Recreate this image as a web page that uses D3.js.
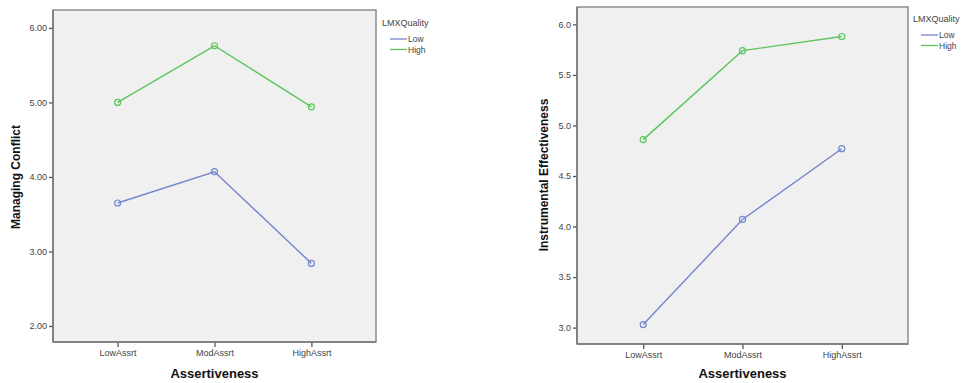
<!DOCTYPE html>
<html>
<head>
<meta charset="utf-8">
<script src="https://cdn.jsdelivr.net/npm/d3@7"></script>
<style>
body { margin: 0; background: #fff; }
svg { display: block; font-family: "Liberation Sans", Arial, sans-serif; }
</style>
</head>
<body>
<script>
// categories and series
var categories = ["LowAssrt", "ModAssrt", "HighAssrt"]
var seriesNames = ["Low", "High"]
var seriesColors = ["#7585cf", "#5cc65c"]

// left panel: Managing Conflict
var conflictLow = [3.65, 4.07, 2.84]
var conflictHigh = [5.00, 5.76, 4.94]
var conflictTicks = [2, 3, 4, 5, 6]

// right panel: Instrumental Effectiveness
var effectLow = [3.03, 4.07, 4.77]
var effectHigh = [4.86, 5.74, 5.88]
var effectTicks = [3.0, 3.5, 4.0, 4.5, 5.0, 5.5, 6.0]

var svg = d3.select("body").append("svg")
  .attr("width", 967)
  .attr("height", 383)

var drawPanel = function(opt) {
  var g = svg.append("g")
  var x = d3.scalePoint()
    .domain(categories)
    .range([opt.left, opt.right])
    .padding(2 / 3)
  var y = d3.scaleLinear()
    .domain(opt.domain)
    .range([opt.bottom, opt.top])

  // plot background
  g.append("rect")
    .attr("x", opt.left)
    .attr("y", opt.top)
    .attr("width", opt.right - opt.left)
    .attr("height", opt.bottom - opt.top)
    .attr("fill", "#f0f0f0")
    .attr("stroke", "#8c8c8c")
    .attr("stroke-width", 1.5)

  // y axis
  var yAxis = g.append("g")
    .attr("transform", "translate(" + opt.left + ",0)")
    .call(d3.axisLeft(y).tickValues(opt.ticks).tickFormat(d3.format(opt.fmt)).tickSize(4).tickPadding(2))
  yAxis.select(".domain").remove()
  yAxis.selectAll("line").attr("stroke", "#555").attr("stroke-width", 1.3)
  yAxis.selectAll("text").attr("fill", "#444").style("font-size", "9px")

  // x axis
  var xAxis = g.append("g")
    .attr("transform", "translate(0," + opt.bottom + ")")
    .call(d3.axisBottom(x).tickSize(5).tickPadding(3))
  xAxis.select(".domain").remove()
  xAxis.selectAll("line").attr("stroke", "#555").attr("stroke-width", 1.3)
  xAxis.selectAll("text").attr("fill", "#444").style("font-size", "9px")

  // axis lines a bit darker
  g.append("line")
    .attr("x1", opt.left).attr("x2", opt.left)
    .attr("y1", opt.top).attr("y2", opt.bottom)
    .attr("stroke", "#777").attr("stroke-width", 1.5)
  g.append("line")
    .attr("x1", opt.left).attr("x2", opt.right)
    .attr("y1", opt.bottom).attr("y2", opt.bottom)
    .attr("stroke", "#777").attr("stroke-width", 1.5)

  // titles
  g.append("text")
    .attr("x", (opt.left + opt.right) / 2)
    .attr("y", 378)
    .attr("text-anchor", "middle")
    .style("font-size", "13px")
    .style("font-weight", "bold")
    .attr("fill", "#111")
    .text("Assertiveness")
  g.append("text")
    .attr("transform", "translate(" + opt.ytitleX + "," + opt.ytitleY + ") rotate(-90)")
    .attr("text-anchor", "middle")
    .style("font-size", "12px")
    .style("font-weight", "bold")
    .attr("fill", "#111")
    .text(opt.ytitle)

  // lines and points
  var line = d3.line()
    .x(function(d, i) { return x(categories[i]) })
    .y(function(d) { return y(d) })
  opt.series.forEach(function(s, k) {
    g.append("path")
      .datum(s)
      .attr("d", line)
      .attr("fill", "none")
      .attr("stroke", seriesColors[k])
      .attr("stroke-width", 1.4)
    g.selectAll(".pt" + k)
      .data(s)
      .enter()
      .append("circle")
      .attr("cx", function(d, i) { return x(categories[i]) })
      .attr("cy", function(d) { return y(d) })
      .attr("r", 3)
      .attr("fill", "none")
      .attr("stroke", seriesColors[k])
      .attr("stroke-width", 1.2)
  })

  // legend
  g.append("text")
    .attr("x", opt.legX)
    .attr("y", opt.legY)
    .style("font-size", "9px")
    .attr("fill", "#444")
    .text("LMXQuality")
  seriesNames.forEach(function(n, k) {
    var ly = opt.legY + 16 + k * 10.5
    g.append("line")
      .attr("x1", opt.legX + 8).attr("x2", opt.legX + 25)
      .attr("y1", ly - 3).attr("y2", ly - 3)
      .attr("stroke", seriesColors[k])
      .attr("stroke-width", 1.3)
    g.append("text")
      .attr("x", opt.legX + 26)
      .attr("y", ly)
      .style("font-size", "8.5px")
      .attr("fill", "#444")
      .text(n)
  })
}

drawPanel({
  left: 53, right: 376, top: 10, bottom: 342,
  domain: [1.785, 6.24], ticks: conflictTicks, fmt: ".2f",
  ytitle: "Managing Conflict", ytitleX: 20, ytitleY: 177,
  series: [conflictLow, conflictHigh],
  legX: 382, legY: 26
})

drawPanel({
  left: 577, right: 908, top: 7, bottom: 344,
  domain: [2.838, 6.172], ticks: effectTicks, fmt: ".1f",
  ytitle: "Instrumental Effectiveness", ytitleX: 548, ytitleY: 175,
  series: [effectLow, effectHigh],
  legX: 913, legY: 22
})
</script>
</body>
</html>
